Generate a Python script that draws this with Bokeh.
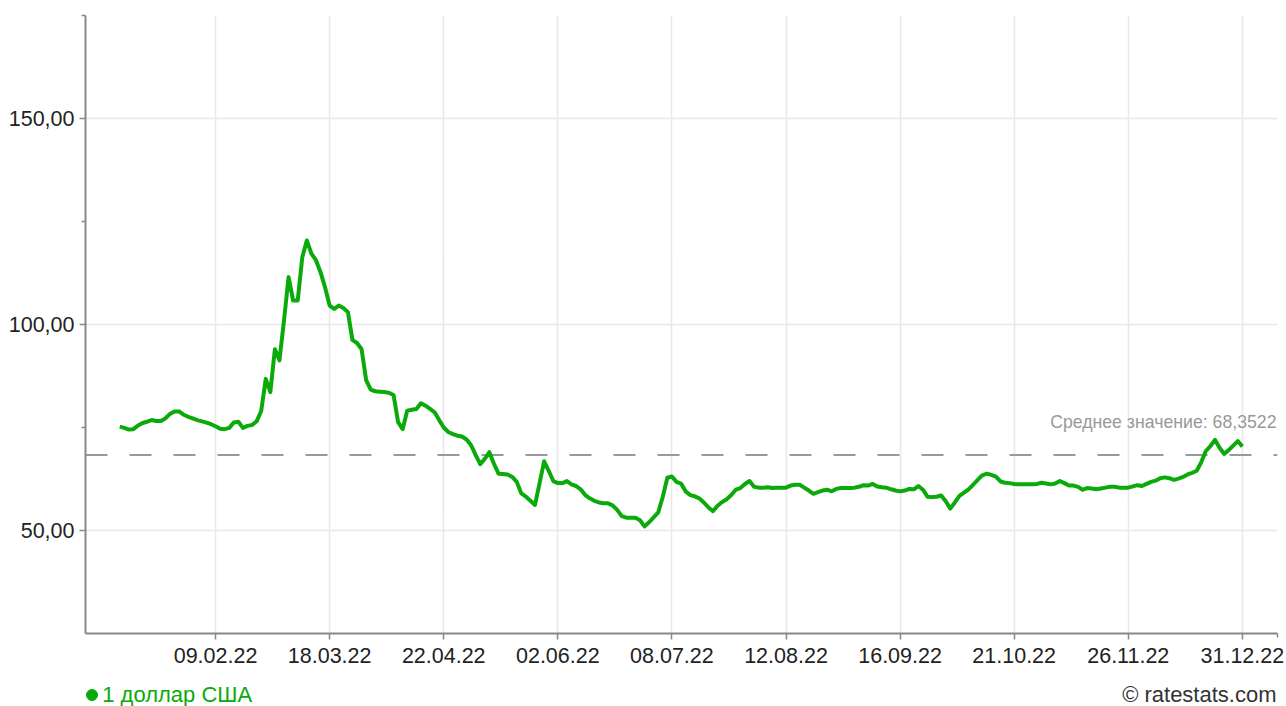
from bokeh.plotting import figure
from bokeh.models import Range1d, FixedTicker, Span, Label
from bokeh.layouts import column
from bokeh.core.properties import value
from bokeh.embed import file_html
from bokeh.resources import INLINE

# --- data -------------------------------------------------------------
series_name = "1 доллар США"
usd_rates = [
    75.2, 74.9, 74.5, 74.6, 75.5, 76.1, 76.4, 76.8, 76.6, 76.6,
    77.2, 78.3, 78.9, 78.9, 78.1, 77.6, 77.2, 76.8, 76.5, 76.2,
    75.8, 75.3, 74.7, 74.6, 74.9, 76.2, 76.4, 74.9, 75.4, 75.6,
    76.5, 79.0, 86.8, 83.6, 94.0, 91.3, 101.0, 111.5, 105.8, 105.8,
    116.3, 120.4, 117.2, 115.6, 112.7, 109.0, 104.6, 103.8, 104.6, 104.0,
    103.0, 96.2, 95.5, 94.0, 86.5, 84.2, 83.8, 83.7, 83.6, 83.4,
    82.9, 76.3, 74.6, 79.1, 79.3, 79.5, 80.9, 80.3, 79.5, 78.7,
    76.8, 75.0, 73.9, 73.4, 73.0, 72.8, 72.1, 70.7, 68.3, 66.1,
    67.4, 69.0, 66.2, 63.8, 63.7, 63.6, 63.0, 61.8, 59.0, 58.2,
    57.2, 56.2, 61.5, 66.8, 64.5, 62.0, 61.5, 61.5, 62.0, 61.2,
    60.8, 60.0, 58.6, 57.8, 57.2, 56.8, 56.6, 56.6, 56.1, 55.0,
    53.5, 53.1, 53.1, 53.1, 52.5, 51.0, 52.0, 53.2, 54.4, 58.2,
    62.8, 63.1, 61.8, 61.4, 59.5, 58.6, 58.3, 57.8, 56.8, 55.6,
    54.7, 56.0, 56.9, 57.6, 58.6, 59.9, 60.3, 61.3, 62.0, 60.6,
    60.4, 60.4, 60.5, 60.3, 60.4, 60.4, 60.4, 60.9, 61.1, 61.1,
    60.4, 59.7, 58.9, 59.3, 59.7, 59.9, 59.5, 60.1, 60.3, 60.3,
    60.3, 60.4, 60.6, 61.0, 60.9, 61.3, 60.7, 60.5, 60.4, 60.0,
    59.7, 59.5, 59.7, 60.1, 60.0, 60.8, 59.9, 58.2, 58.1, 58.2,
    58.5, 57.1, 55.3, 56.8, 58.4, 59.2, 60.0, 61.1, 62.3, 63.4,
    63.8, 63.5, 63.1, 61.9, 61.6, 61.5, 61.3, 61.2, 61.2, 61.2,
    61.2, 61.3, 61.6, 61.4, 61.2, 61.4, 62.0, 61.5, 60.9, 60.9,
    60.6, 59.9, 60.3, 60.2, 60.0, 60.2, 60.4, 60.6, 60.6, 60.4,
    60.4, 60.4, 60.7, 61.0, 60.8, 61.3, 61.8, 62.1, 62.7, 62.9,
    62.7, 62.3, 62.6, 63.0, 63.6, 64.0, 64.5, 66.6, 69.3, 70.5,
    72.0, 70.1, 68.6, 69.5, 70.6, 71.7, 70.4,
]
tick_idx = [21, 46, 71, 96, 121, 146, 171, 196, 221, 246]
tick_labels = ["09.02.22", "18.03.22", "22.04.22", "02.06.22", "08.07.22",
               "12.08.22", "16.09.22", "21.10.22", "26.11.22", "31.12.22"]
y_ticks = [50, 100, 150]
y_tick_labels = ["50,00", "100,00", "150,00"]
mean_value = 68.3522
mean_text = "Среднее значение: 68,3522"
credit_text = "© ratestats.com"

# --- styles -------------------------------------------------------------
GREEN = "#0aaa0a"
AXIS = "#888888"
GRID = "#e8e8e8"
FONT = "Liberation Sans"
W = 1286
H1 = 675
H2 = 31
LEFT, RIGHT = 85, 9
X0, X1 = -7.5, 253.7
Y0, Y1 = 25, 175

p = figure(width=W, height=H1, output_backend="svg", toolbar_location=None,
           x_range=Range1d(X0, X1), y_range=Range1d(Y0, Y1),
           min_border_left=LEFT, min_border_right=RIGHT, min_border_top=15,
           min_border_bottom=42)
p.outline_line_color = None
p.background_fill_color = "white"
p.border_fill_color = "white"

xs = list(range(len(usd_rates)))
p.line(xs, usd_rates, line_color=GREEN, line_width=4, line_join="round")

mean_span = Span(location=mean_value, dimension="width", line_color="#999999",
                 line_width=2, line_dash="22 22", level="underlay")
p.add_layout(mean_span)

# axes
xa = p.xaxis[0]
xa.ticker = FixedTicker(ticks=tick_idx, minor_ticks=[X1 - 0.05])
xa.major_label_overrides = {t: l for t, l in zip(tick_idx, tick_labels)}
xa.major_label_standoff = 8
ya = p.yaxis[0]
ya.ticker = FixedTicker(ticks=y_ticks, minor_ticks=[75, 125, Y1 - 0.05])
ya.major_label_overrides = {t: l for t, l in zip(y_ticks, y_tick_labels)}
ya.major_label_standoff = 5
for ax in (xa, ya):
    ax.axis_line_color = AXIS
    ax.axis_line_width = 2
    ax.major_tick_line_color = AXIS
    ax.major_tick_line_width = 1.5
    ax.minor_tick_line_color = AXIS
    ax.minor_tick_line_width = 1.5
    ax.major_tick_in = 0
    ax.major_tick_out = 6
    ax.minor_tick_in = 0
    ax.minor_tick_out = 4
    ax.major_label_text_font = FONT
    ax.major_label_text_font_size = "21.5px"
    ax.major_label_text_color = "#222222"

p.xgrid.ticker = FixedTicker(ticks=tick_idx)
p.ygrid.ticker = FixedTicker(ticks=y_ticks)
p.grid.grid_line_color = GRID
p.grid.grid_line_width = 1.5

# mean label
p.add_layout(Label(x=X1, y=mean_value, x_offset=-1, y_offset=32.5, text=mean_text,
                   text_align="right", text_baseline="alphabetic",
                   text_font=FONT, text_font_size="17.7px", text_color="#999999"))

# --- bottom strip: legend and credit (coordinates in page pixels) --------
p2 = figure(width=W, height=H2, output_backend="svg", toolbar_location=None,
            x_range=Range1d(LEFT, W - RIGHT), y_range=Range1d(H1 + H2, H1),
            min_border_left=LEFT, min_border_right=RIGHT,
            min_border_top=0, min_border_bottom=0,
            x_axis_type=None, y_axis_type=None)
p2.outline_line_color = None
p2.background_fill_color = "white"
p2.border_fill_color = "white"
p2.grid.visible = False

p2.scatter(x=[91.5], y=[694.5], marker="circle", size=11, color=GREEN)
p2.text(x=[101.7], y=[693.5], text=[series_name], text_align="left",
        text_baseline="alphabetic", text_font=value(FONT),
        text_font_size=value("22px"), text_color=GREEN)
p2.text(x=[1276], y=[693.5], text=[credit_text], text_align="right",
        text_baseline="alphabetic", text_font=value(FONT),
        text_font_size=value("22px"), text_color="#333333")

layout = column(p, p2, spacing=0)
open("out.html", "w").write(file_html(layout, INLINE))
